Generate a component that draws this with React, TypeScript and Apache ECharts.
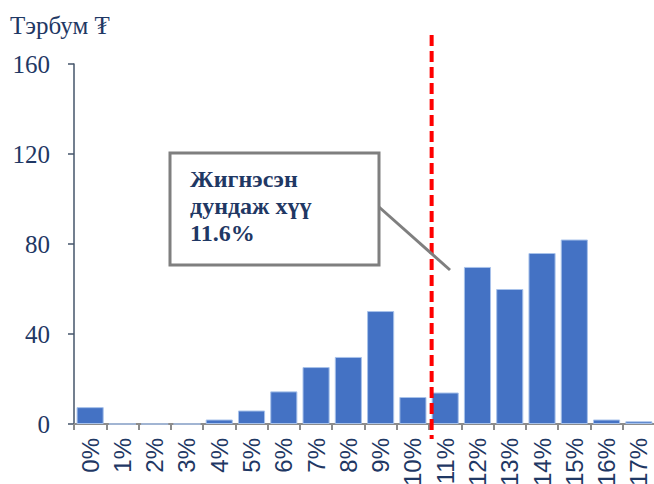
import React, { useEffect, useRef } from "react";
import * as echarts from "echarts";

const categories = ["0%", "1%", "2%", "3%", "4%", "5%", "6%", "7%", "8%", "9%", "10%", "11%", "12%", "13%", "14%", "15%", "16%", "17%"];
const values = [7.5, 0, 0, 0, 2, 6, 14.5, 25.3, 29.8, 50.2, 12, 14, 69.8, 60, 76, 82, 2, 1.2];
const yTicks = { min: 0, max: 160, interval: 40 };
const unitLabel = "Тэрбум ₮";
const noteLines = ["Жигнэсэн", "дундаж хүү", "11.6%"];
// marker sits between category index 10 and 11 (in category units)
const markerCategoryPos = 10.58;

export default function App() {
  const ref = useRef<HTMLDivElement>(null);
  useEffect(() => {
    if (!ref.current) return;
    const chart = echarts.init(ref.current, null, { renderer: "svg" });
    const navy = "#1F3864";
    chart.setOption({
      animation: false,
      grid: {
        left: 74,
        top: 64,
        width: 581,
        height: 360,
        containLabel: false,
        outerBoundsMode: "none",
      },
      xAxis: {
        type: "category",
        data: categories,
        axisLine: { lineStyle: { color: "#8C8C8C", width: 2 } },
        axisTick: { show: true, length: 6, lineStyle: { color: "#8C8C8C", width: 2 } },
        axisLabel: {
          rotate: 90,
          interval: 0,
          margin: 14,
          color: navy,
          fontFamily: "Liberation Sans",
          fontSize: 24,
        },
      },
      yAxis: {
        type: "value",
        min: yTicks.min,
        max: yTicks.max,
        interval: yTicks.interval,
        splitLine: { show: false },
        axisLine: { show: true, lineStyle: { color: "#44546A", width: 1.5 } },
        axisTick: { show: true, length: 6, lineStyle: { color: "#44546A", width: 1.5 } },
        axisLabel: {
          margin: 24,
          color: navy,
          fontFamily: "Liberation Serif",
          fontSize: 25,
        },
      },
      series: [
        {
          type: "bar",
          data: values,
          barCategoryGap: "16%",
          itemStyle: { color: "#4472C4", borderColor: "#A8C2EA", borderWidth: 1 },
        },
      ],
    });
    const c0 = chart.convertToPixel({ xAxisIndex: 0 }, 0) as number;
    const c1 = chart.convertToPixel({ xAxisIndex: 0 }, 1) as number;
    const band = c1 - c0;
    const mx = c0 + markerCategoryPos * band;
    chart.setOption({
      graphic: [
        {
          type: "text",
          x: 10,
          y: 13,
          style: {
            text: unitLabel,
            fill: navy,
            fontFamily: "Liberation Serif",
            fontSize: 25,
          },
        },
        {
          type: "line",
          shape: { x1: mx, y1: 35, x2: mx, y2: 439 },
          style: { stroke: "#FF0000", lineWidth: 4, lineDash: [11, 5] },
          z: 10,
        },
        {
          type: "line",
          shape: { x1: 379, y1: 207, x2: 450, y2: 270 },
          style: { stroke: "#7F7F7F", lineWidth: 3 },
          z: 11,
        },
        {
          type: "rect",
          shape: { x: 170, y: 153, width: 209, height: 112 },
          style: { fill: "#FFFFFF", stroke: "#7F7F7F", lineWidth: 3 },
          z: 12,
        },
        {
          type: "text",
          x: 190,
          y: 165,
          z: 13,
          style: {
            text: noteLines.join("\n"),
            fill: navy,
            fontFamily: "Liberation Serif",
            fontWeight: "bold",
            fontSize: 24,
            lineHeight: 27,
          },
        },
      ],
    });
    return () => chart.dispose();
  }, []);
  return (
    <div
      ref={ref}
      style={{ position: "fixed", left: 0, top: 0, width: 654, height: 484, background: "#fff" }}
    />
  );
}
